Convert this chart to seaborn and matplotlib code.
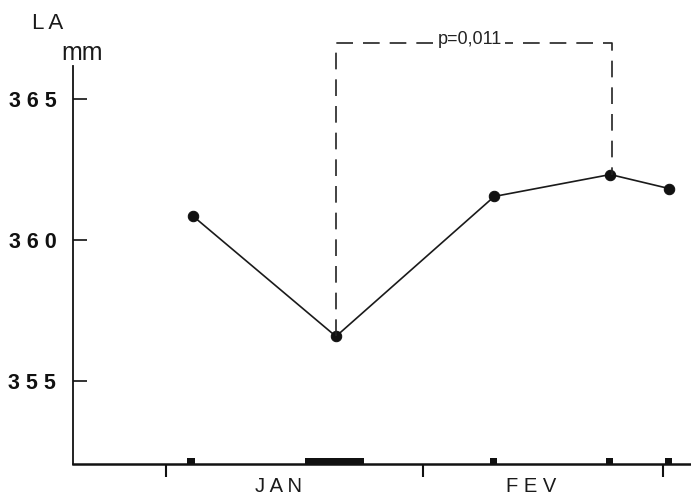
import matplotlib
matplotlib.use("Agg")
import matplotlib.pyplot as plt
import seaborn as sns
import pandas as pd

# ---- data (x in days from 1 January) ----
days = [3.3, 20.5, 39.6, 53.6, 60.7]
la_mm = [360.84, 356.57, 361.55, 362.33, 361.83]
period_center = [3.0, 20.35, 39.5, 53.5, 60.6]
period_width = [0.9, 7.1, 0.9, 0.9, 0.9]
month_labels = ["JAN", "FEV"]
month_centers = [13.6, 44.0]
month_bounds = [0, 31, 60]
y_ticks = [355, 360, 365]
y_tick_labels = ["355", "360", "365"]
p_text = "p=0,011"
bracket_from, bracket_to = 1, 3
bracket_top = 367.0

sns.set_style("white")
plt.rcParams["font.family"] = ["Liberation Sans", "DejaVu Sans"]

fig = plt.figure(figsize=(6.91, 4.95), dpi=100)
ax = fig.add_axes([73 / 691, 31 / 495, 1 - 73 / 691, 1 - 31 / 495])
ax.set_facecolor("white")

df = pd.DataFrame({"day": days, "la": la_mm})
sns.lineplot(data=df, x="day", y="la", ax=ax, color="#1a1a1a", linewidth=1.2,
             marker="o", markersize=7.5, markeredgecolor="#111111",
             markerfacecolor="#111111")

y0 = 352.03
ax.bar(period_center, [0.22] * len(period_center), width=period_width,
       bottom=y0, color="#111111", edgecolor="none", linewidth=0,
       align="center", zorder=3, clip_on=False)

# dashed bracket
xa, xb = days[bracket_from], days[bracket_to] + 0.25
ax.plot([xa, xa, xb, xb], [la_mm[bracket_from], bracket_top, bracket_top, la_mm[bracket_to]],
        color="#222222", linewidth=1.2, linestyle=(0, (10, 6)), zorder=2)
ax.text(36.7, bracket_top - 0.03, p_text, ha="center", va="baseline", fontsize=13,
        color="#222222", fontweight="light",
        bbox=dict(facecolor="white", edgecolor="none", pad=1.5), zorder=4)

ax.set_xlim(-11.22, 63.33)
ax.set_ylim(y0, 368.54)

for s in ["top", "right"]:
    ax.spines[s].set_visible(False)
ax.spines["left"].set_bounds(y0, 366.2)
ax.spines["left"].set_linewidth(1.3)
ax.spines["bottom"].set_linewidth(1.8)
ax.spines["left"].set_color("#111111")
ax.spines["bottom"].set_color("#111111")

ax.set_yticks(y_ticks)
ax.set_yticklabels([" ".join(t) for t in y_tick_labels], fontsize=15.5, fontweight="bold",
                   color="#1a1a1a")
ax.tick_params(axis="y", direction="in", length=10, width=1.2, pad=12, left=True,
               colors="#111111")
ax.set_xticks(month_bounds)
ax.set_xticklabels([])
ax.tick_params(axis="x", direction="out", length=9, width=1.5, bottom=True,
               colors="#111111")

for lab, xc in zip(month_labels, month_centers):
    ax.annotate(" ".join(lab), xy=(xc, y0), xycoords="data", xytext=(0, -9),
                textcoords="offset points", ha="center", va="top", fontsize=14.5,
                color="#1a1a1a", annotation_clip=False)

ax.set_xlabel("")
ax.set_ylabel("")
fig.text(32 / 691, 1 - 29 / 495, "L A", fontsize=16, ha="left", va="baseline", color="#1a1a1a")
fig.text(61 / 691, 1 - 60 / 495, "mm", fontsize=18, ha="left", va="baseline", color="#1a1a1a")

fig.savefig("out.png", dpi=100, facecolor="white")
